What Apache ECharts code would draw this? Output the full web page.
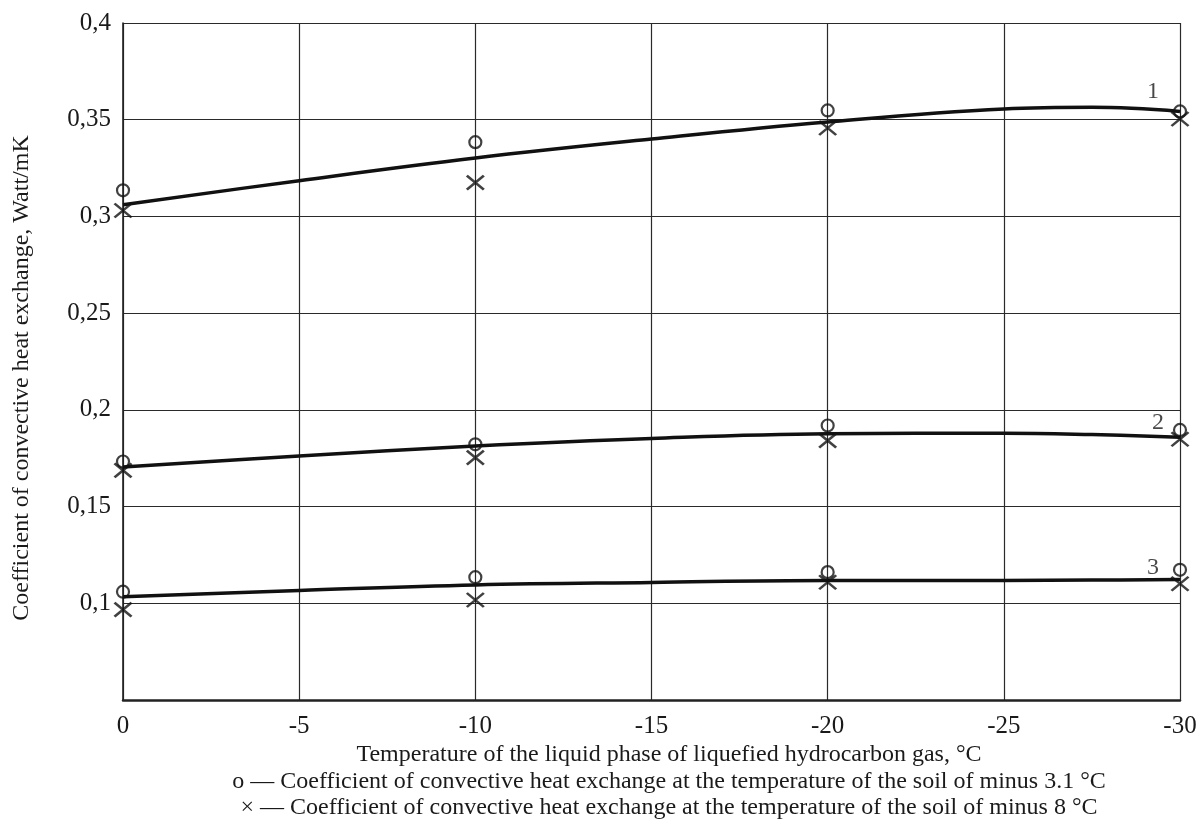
<!DOCTYPE html>
<html lang="en">
<head>
    <meta charset="UTF-8">
    <title>Coefficient of convective heat exchange</title>
    <script src="https://cdn.jsdelivr.net/npm/echarts@6/dist/echarts.min.js"></script>
    <style>
        html, body { margin: 0; padding: 0; background: #fff; }
        #main { width: 1203px; height: 821px; }
    </style>
</head>
<body>
<div id="main"></div>
<script>
    // measured points (temperature of liquid phase, deg C)
    var temps = [0, -10, -20, -30];
    var circ1 = [0.3135, 0.3384, 0.3548, 0.3543];
    var cross1 = [0.3031, 0.3175, 0.3457, 0.3504];
    var circ2 = [0.1733, 0.1822, 0.1919, 0.1896];
    var cross2 = [0.1687, 0.1753, 0.1841, 0.1848];
    var circ3 = [0.1060, 0.1135, 0.1161, 0.1173];
    var cross3 = [0.0967, 0.1017, 0.1109, 0.1101];

    // approximating curves
    var curveX = [0, -5, -10, -15, -20, -25, -27.5, -30];
    var curve1 = [0.3060, 0.3185, 0.3302, 0.3400, 0.3488, 0.3555, 0.3564, 0.3543];
    var curve2 = [0.1705, 0.1762, 0.1813, 0.1852, 0.1876, 0.1879, 0.1872, 0.1859];
    var curve3 = [0.1034, 0.1066, 0.1095, 0.1108, 0.1118, 0.1118, 0.1120, 0.1123];
    var curveNames = ['1', '2', '3'];

    var xTitle = 'Temperature of the liquid phase of liquefied hydrocarbon gas, °C';
    var yTitle = 'Coefficient of convective heat exchange, Watt/mK';
    var note1 = 'o — Coefficient of convective heat exchange at the temperature of the soil of minus 3.1 °C';
    var note2 = '× — Coefficient of convective heat exchange at the temperature of the soil of minus 8 °C';

    var font = 'Liberation Serif';
    var ink = '#111';
    var textFont = '24px "Liberation Serif"';

    function pairs(xs, ys) {
        var out = [];
        for (var i = 0; i < xs.length; i++) {
            out.push([xs[i], ys[i]]);
        }
        return out;
    }

    // circles, with the curve number next to the last one
    function circles(ys, name, offset) {
        var d = pairs(temps, ys);
        d[d.length - 1] = {
            value: d[d.length - 1],
            label: {
                show: true, position: 'inside', formatter: name, offset: offset,
                fontFamily: font, fontSize: 24, color: '#1a1a1a',
                textBorderWidth: 0
            }
        };
        return {
            type: 'scatter', data: d, symbol: 'circle', symbolSize: 12, z: 4,
            itemStyle: { color: 'rgba(0,0,0,0)', borderColor: ink, borderWidth: 2.2 }
        };
    }

    function crosses(ys) {
        return {
            type: 'scatter', data: pairs(temps, ys), z: 4,
            symbol: 'path://M0,0L10,10M10,0L0,10', symbolSize: [17, 14],
            itemStyle: { color: ink, borderColor: ink, borderWidth: 2.5 }
        };
    }

    function curve(ys) {
        return {
            type: 'line', data: pairs(curveX, ys), smooth: 0.4, showSymbol: false, z: 3,
            lineStyle: { color: ink, width: 3.5 }
        };
    }

    var myChart = echarts.init(document.getElementById('main'));
    var option = {
        backgroundColor: '#fff',
        animation: false,
        grid: { left: 123, right: 23, top: 23, bottom: 121 },
        xAxis: {
            type: 'value', inverse: true, min: -30, max: 0, interval: 5,
            axisLine: { lineStyle: { color: '#222', width: 2.5 } },
            axisTick: { show: false },
            axisLabel: { fontFamily: font, fontSize: 25, color: '#1a1a1a', margin: 14 },
            splitLine: { lineStyle: { color: '#2a2a2a', width: 1.2 } }
        },
        yAxis: {
            type: 'value', min: 0.05, max: 0.4, interval: 0.05,
            axisLine: { show: true, lineStyle: { color: '#222', width: 1.6 } },
            axisTick: { show: false },
            axisLabel: {
                fontFamily: font, fontSize: 25, color: '#1a1a1a', margin: 12,
                formatter: function (v) {
                    if (Math.abs(v - 0.05) < 1e-6) return '';
                    return String(+v.toFixed(2)).replace('.', ',');
                }
            },
            splitLine: { lineStyle: { color: '#2a2a2a', width: 1.2 } }
        },
        graphic: [
            {
                type: 'text', x: 669, y: 755,
                style: { text: xTitle, font: textFont, fill: '#1a1a1a', align: 'center', verticalAlign: 'middle' }
            },
            {
                type: 'text', x: 669, y: 782,
                style: { text: note1, font: textFont, fill: '#1a1a1a', align: 'center', verticalAlign: 'middle' }
            },
            {
                type: 'text', x: 669, y: 808,
                style: { text: note2, font: textFont, fill: '#1a1a1a', align: 'center', verticalAlign: 'middle' }
            },
            {
                type: 'text', x: 22, y: 378, rotation: Math.PI / 2,
                style: { text: yTitle, font: textFont, fill: '#1a1a1a', align: 'center', verticalAlign: 'middle' }
            }
        ],
        series: [
            curve(curve1), curve(curve2), curve(curve3),
            circles(circ1, curveNames[0], [-27, -20]),
            circles(circ2, curveNames[1], [-22, -7]),
            circles(circ3, curveNames[2], [-27, -2]),
            crosses(cross1), crosses(cross2), crosses(cross3)
        ]
    };
    myChart.setOption(option);
</script>
</body>
</html>
